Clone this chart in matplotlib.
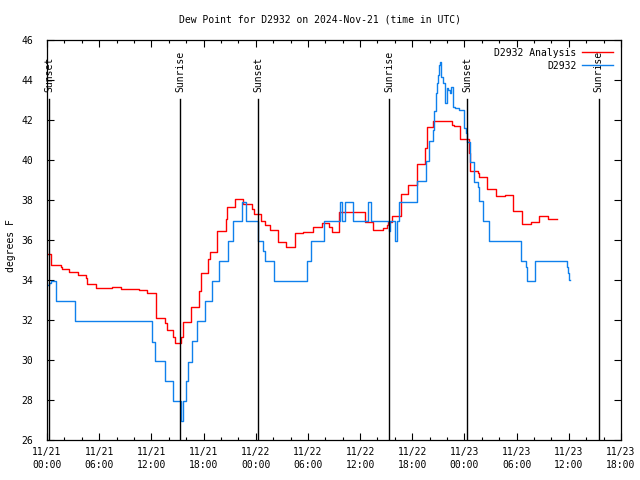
import matplotlib
matplotlib.use("Agg")
import matplotlib.pyplot as plt
from matplotlib.ticker import MultipleLocator

# hours since 2024-11-21 00:00 UTC
red_h = [0.0, 0.49, 1.58, 1.76, 2.53, 3.60, 4.45, 4.63, 5.60, 7.51, 8.54, 10.58, 11.53,
         12.57, 13.57, 13.76, 14.52, 14.68, 15.37, 15.67, 16.56, 17.51, 17.67, 18.55, 18.74,
         19.58, 20.58, 20.73, 21.62, 22.50, 23.54, 23.80, 24.57, 25.07, 25.64, 26.60, 27.48,
         28.52, 29.47, 29.67, 30.55, 31.59, 32.43, 32.74, 33.61, 36.56, 37.52, 38.60, 39.06,
         39.24, 39.63, 40.67, 41.54, 42.51, 43.46, 43.69, 44.42, 46.53, 46.83, 47.49, 48.52,
         48.64, 49.52, 49.67, 50.63, 51.59, 52.66, 53.62, 54.58, 55.62, 56.57, 57.64, 58.61]
red_v = [35.28, 34.75, 34.63, 34.53, 34.38, 34.25, 34.08, 33.80, 33.58, 33.63, 33.57, 33.52, 33.35,
         32.12, 31.83, 31.50, 31.17, 30.83, 31.17, 31.88, 32.67, 33.47, 34.33, 35.03, 35.38,
         36.43, 37.05, 37.67, 38.03, 37.78, 37.53, 37.30, 36.97, 36.75, 36.50, 35.92, 35.63,
         36.33, 36.38, 36.42, 36.63, 36.87, 36.67, 36.38, 37.40, 36.88, 36.50, 36.62, 36.75,
         36.92, 37.20, 38.30, 38.73, 39.78, 40.58, 41.63, 41.93, 41.75, 41.70, 41.03, 40.33,
         39.47, 39.37, 39.13, 38.53, 38.20, 38.23, 37.45, 36.78, 36.90, 37.22, 37.05, 37.05]

blue_h = [0.0, 0.23, 0.49, 1.00, 3.18, 12.04, 12.42, 13.57, 14.49, 15.37, 15.69, 15.98, 16.25,
          16.64, 17.28, 18.20, 19.01, 19.78, 20.81, 21.35, 22.46, 22.83, 24.30, 24.87, 25.07,
          26.10, 29.86, 30.32, 31.85, 33.69, 33.89, 34.26, 35.13, 36.94, 37.31, 39.27, 39.44,
          39.96, 40.24, 40.53, 42.51, 43.54, 43.92, 44.38, 44.53, 44.69, 44.81, 44.92, 45.07,
          45.19, 45.30, 45.57, 45.71, 45.82, 45.94, 46.14, 46.34, 46.51, 46.68, 46.91, 47.41,
          47.98, 48.18, 48.29, 48.64, 49.13, 49.52, 49.67, 50.17, 50.82, 54.50, 55.04, 55.23,
          56.11, 59.76, 59.94, 60.06, 60.17]
blue_v = [33.75, 33.85, 33.95, 32.95, 31.95, 30.92, 29.95, 28.95, 27.95, 26.95, 27.95, 28.95, 29.90,
          30.95, 31.95, 32.95, 33.95, 34.95, 35.95, 36.95, 37.92, 36.95, 35.95, 35.45, 34.95,
          33.95, 34.95, 35.95, 36.95, 37.92, 36.95, 37.92, 36.95, 37.92, 36.95, 36.45, 36.95,
          35.95, 36.95, 37.92, 38.95, 39.95, 40.95, 41.50, 42.45, 43.33, 43.83, 44.25, 44.75,
          44.92, 44.17, 43.83, 43.33, 42.83, 43.58, 43.50, 43.33, 43.67, 42.67, 42.60, 42.50,
          41.58, 41.33, 40.92, 39.92, 38.92, 38.67, 37.95, 36.95, 35.95, 34.95, 34.67, 33.95,
          34.95, 34.67, 34.33, 34.00, 34.00]

sun_h = [0.27, 15.33, 24.30, 39.36, 48.33, 63.43]
sun_lbl = ["Sunset", "Sunrise", "Sunset", "Sunrise", "Sunset", "Sunrise"]

tick_h = list(range(0, 67, 6))
tick_lbl = ["11/21\n00:00", "11/21\n06:00", "11/21\n12:00", "11/21\n18:00",
            "11/22\n00:00", "11/22\n06:00", "11/22\n12:00", "11/22\n18:00",
            "11/23\n00:00", "11/23\n06:00", "11/23\n12:00", "11/23\n18:00"]

plt.rcParams["font.family"] = "DejaVu Sans Mono"
plt.rcParams["font.size"] = 7

fig = plt.figure(figsize=(6.4, 4.8), dpi=100)
ax = fig.add_axes([47/640, 40/480, 574/640, 400/480])

ax.plot(red_h, red_v, drawstyle="steps-post", color="#ff0000", lw=1, label="D2932 Analysis")
ax.plot(blue_h, blue_v, drawstyle="steps-post", color="#0f80ec", lw=1, label="D2932")

# sunrise / sunset markers
for h, s in zip(sun_h, sun_lbl):
    ax.plot([h, h], [26, 43.05], color="black", lw=1)
    ax.text(h, 43.4, s, rotation=90, ha="center", va="bottom")

ax.set_xlim(0, 66)
ax.set_ylim(26, 46)
ax.set_xticks(tick_h)
ax.set_xticklabels(tick_lbl, linespacing=1.35)
ax.xaxis.set_minor_locator(MultipleLocator(2))
ax.set_yticks(range(26, 47, 2))
ax.tick_params(which="both", direction="in", top=True, right=True, width=0.8)
ax.tick_params(which="major", length=5)
ax.tick_params(which="minor", length=2.5)
ax.tick_params(axis="y", pad=10)
ax.tick_params(axis="x", pad=5)
for sp in ax.spines.values():
    sp.set_linewidth(0.9)

ax.legend(loc="upper right", frameon=False, markerfirst=False, handlelength=3.2,
          labelspacing=0.3, borderaxespad=0.4, handletextpad=0.6)

fig.text(0.5, 1 - 20/480, "Dew Point for D2932 on 2024-Nov-21 (time in UTC)",
         ha="center", va="center")
fig.text(11/640, 1 - 246/480, "degrees F", rotation=90, ha="center", va="center")

fig.savefig("out.png", dpi=100)
